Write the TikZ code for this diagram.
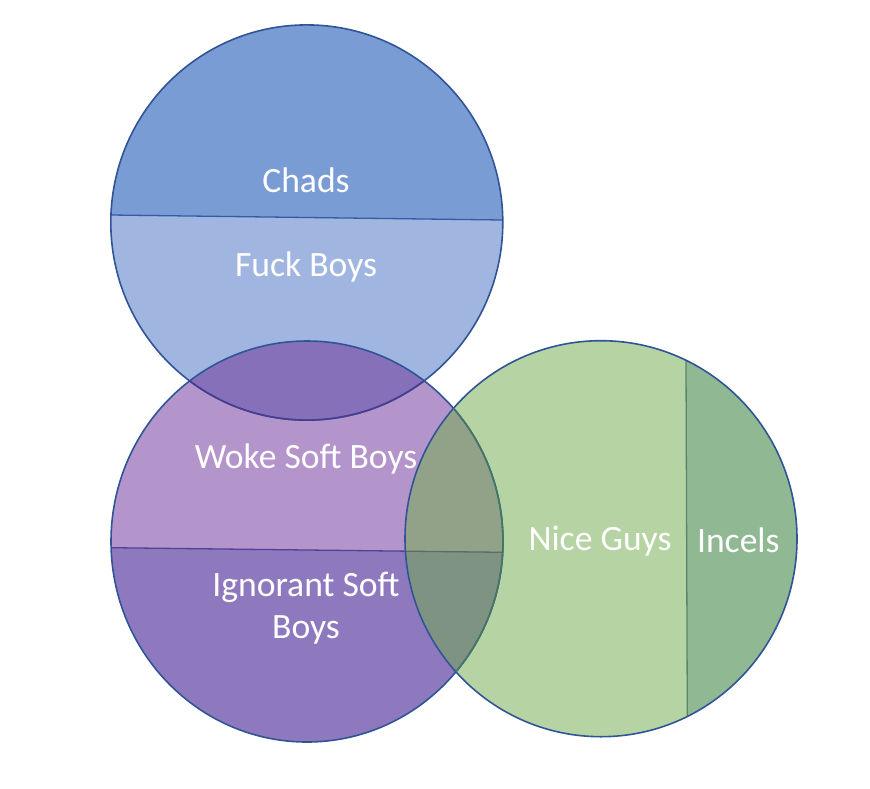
\documentclass[tikz,border=0pt]{standalone}
\usepackage{fontspec}
\setmainfont{Carlito}
\definecolor{chads}{RGB}{122,156,213}
\definecolor{fuckb}{RGB}{160,182,224}
\definecolor{wokep}{RGB}{179,148,203}
\definecolor{ignorp}{RGB}{142,121,191}
\definecolor{bpov}{RGB}{135,112,186}
\definecolor{nice}{RGB}{182,212,163}
\definecolor{incel}{RGB}{143,184,147}
\definecolor{pgtop}{RGB}{146,162,137}
\definecolor{pgbot}{RGB}{127,147,131}
\definecolor{outl}{RGB}{47,85,151}
\definecolor{divb}{RGB}{52,92,165}
\definecolor{divp}{RGB}{80,66,150}
\definecolor{divg}{RGB}{88,134,104}
\definecolor{arcp}{RGB}{74,60,145}
\definecolor{arcg}{RGB}{70,118,100}
\definecolor{divpg}{RGB}{90,108,100}
\begin{document}
\begin{tikzpicture}[x=1pt,y=-1pt,
  outline/.style={draw=outl,line width=1.6pt},
  lbl/.style={text=white,font=\fontsize{35.6}{42}\selectfont,anchor=base,inner sep=0pt,align=center}]
\useasboundingbox (0,0) rectangle (870,788);
\coordinate (cb) at (306.8,222.5);
\coordinate (cp) at (307,541.5);
\coordinate (cg) at (601,538.7);
% blue circle
\begin{scope}
  \clip (cb) ellipse [x radius=196, y radius=197.6];
  \fill[chads] (100,0) -- (520,0) -- (520,220.22) -- (100,214.86) -- cycle;
  \fill[fuckb] (100,214.86) -- (520,220.22) -- (520,430) -- (100,430) -- cycle;
  \draw[divb,line width=1.3pt] (100,214.86) -- (520,220.22);
\end{scope}
% purple circle
\begin{scope}
  \clip (cp) ellipse [x radius=196, y radius=200.5];
  \fill[wokep] (100,330) -- (520,330) -- (520,552.5) -- (100,547.57) -- cycle;
  \fill[ignorp] (100,547.57) -- (520,552.5) -- (520,750) -- (100,750) -- cycle;
  \draw[divp,line width=1.3pt] (100,547.57) -- (520,552.5);
\end{scope}
% green circle
\begin{scope}
  \clip (cg) ellipse [x radius=196, y radius=198];
  \fill[nice] (390,330) -- (685.88,330) -- (687.42,750) -- (390,750) -- cycle;
  \fill[incel] (685.88,330) -- (810,330) -- (810,750) -- (687.42,750) -- cycle;
  \draw[divg,line width=1.3pt] (685.88,330) -- (687.42,750);
\end{scope}
% blue-purple overlap
\begin{scope}
  \clip (cb) ellipse [x radius=196, y radius=197.6];
  \clip (cp) ellipse [x radius=196, y radius=200.5];
  \fill[bpov] (100,300) rectangle (520,450);
\end{scope}
% purple-green overlap
\begin{scope}
  \clip (cp) ellipse [x radius=196, y radius=200.5];
  \clip (cg) ellipse [x radius=196, y radius=198];
  \fill[pgtop] (390,330) -- (520,330) -- (520,552.5) -- (390,550.98) -- cycle;
  \fill[pgbot] (390,550.98) -- (520,552.5) -- (520,750) -- (390,750) -- cycle;
  \draw[divpg,line width=1.3pt] (390,550.98) -- (520,552.5);
\end{scope}
% outlines
\draw[outline] (cb) ellipse [x radius=196, y radius=197.6];
\draw[outline] (cp) ellipse [x radius=196, y radius=200.5];
\draw[outline] (cg) ellipse [x radius=196, y radius=198];
\begin{scope}
  \clip (cp) ellipse [x radius=196, y radius=200.5];
  \draw[arcp,line width=1.6pt] (cb) ellipse [x radius=196, y radius=197.6];
\end{scope}
\begin{scope}
  \clip (cg) ellipse [x radius=196, y radius=198];
  \draw[arcg,line width=1.6pt] (cp) ellipse [x radius=196, y radius=200.5];
\end{scope}
% labels
\node[lbl] (chads) at (306,192.7) {Chads};
\node[lbl] (fb) at (306,276.7) {Fuck Boys};
\node[lbl] (woke) at (306,468.3) {Woke Soft Boys};
\node[lbl] (ign1) at (306,596.7) {Ignorant Soft};
\node[lbl] (ign2) at (306,638.3) {Boys};
\node[lbl] (nice) at (600,550) {Nice Guys};
\node[lbl] (incels) at (738.3,552.7) {Incels};
\end{tikzpicture}
\end{document}
